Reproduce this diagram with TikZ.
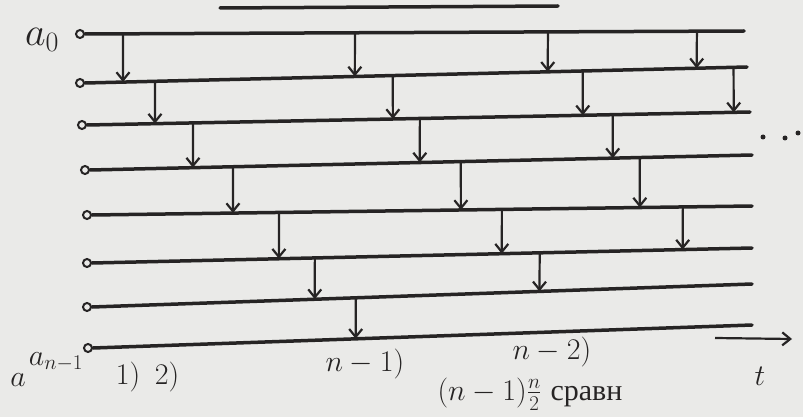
\documentclass[tikz,border=0pt]{standalone}
\usepackage{fix-cm}
\usepackage{fontspec}
\newfontfamily\cyrfont{Liberation Serif}
\usetikzlibrary{arrows.meta, calc}
\definecolor{Tinta}{RGB}{38,36,36}
\definecolor{Pizarra}{RGB}{234,234,232}

\begin{document}
\begin{tikzpicture}[
  x=1pt, y=-1pt,
  fila/.style={line width=3.5pt, color=Tinta, line cap=round},
  ini/.style={circle, draw=Tinta, line width=2pt, inner sep=0pt, minimum size=8pt},
  arr/.style={-{Straight Barb[length=8pt, width=13pt, line width=2.2pt]},
              line width=2.2pt, color=Tinta},
  etq/.style={text=Tinta, font=\fontsize{30}{30}\selectfont, inner sep=0pt},
  punto/.style={circle, fill=Tinta, inner sep=0pt, minimum size=5pt}
]
\fill[Pizarra] (0,0) rectangle (803,417);
\useasboundingbox (0,0) rectangle (803,417);

%% Linea de arriba (cortada)
\coordinate (m1) at (220,8);
\coordinate (m2) at (558,6);
\draw[fila] (m1) -- (m2);

%% Filas a_0 ... a_{n-1}
\foreach \k/\xa/\ya/\xb/\yb in {0/80/34/744/31, 1/80/83/747/67,
    2/82/125/750/112, 3/85/170/752/155, 4/87/215/752/206,
    5/87/263/752/248, 6/87/307/752/284, 7/88/348/752/325}{
  \node[ini] (r\k) at (\xa,\ya) {};
  \coordinate (e\k) at (\xb,\yb);
  \draw[fila] (r\k.east) -- (e\k);
}

%% Comparaciones
\foreach \i/\j/\x in {0/1/123, 0/1/355, 0/1/548, 0/1/697,
    1/2/155, 1/2/393, 1/2/583, 1/2/734,
    2/3/193, 2/3/420, 2/3/613,
    3/4/233, 3/4/461, 3/4/640,
    4/5/279, 4/5/502, 4/5/683,
    5/6/315, 5/6/540,
    6/7/356}{
  \coordinate (va) at (\x,0);
  \coordinate (pa) at (r\i -| va);
  \coordinate (pb) at (r\j -| va);
  \draw[arr] ($(r\i)!(pa)!(e\i)$) -- ($(r\j)!(pb)!(e\j)$);
}

%% Puntos suspensivos
\foreach \k/\x/\y in {1/763/137, 2/785/138, 3/798/133}
  \node[punto] (d\k) at (\x,\y) {};

%% Eje del tiempo
\coordinate (t1) at (715,338);
\coordinate (t2) at (792,339);
\draw[arr] (t1) -- (t2);
\node[etq] (tt) at (760,376) {$t$};

%% Etiquetas
\node[etq, font=\fontsize{40}{40}\selectfont] (a0) at (42,40) {$a_0$};
\node[etq] (aa) at (18,380) {$a$};
\node[etq] (an) at (56,362) {$a_{n-1}$};
\node[etq] (c1) at (128,377) {$1)$};
\node[etq] (c2) at (167,377) {$2)$};
\node[etq] (cn1) at (365,364) {$n-1)$};
\node[etq] (cn2) at (552,352) {$n-2)$};
\node[etq] (tot) at (530,394)
  {$(n-1)\frac{n}{2}$ {\cyrfont сравн}};

\end{tikzpicture}
\end{document}
